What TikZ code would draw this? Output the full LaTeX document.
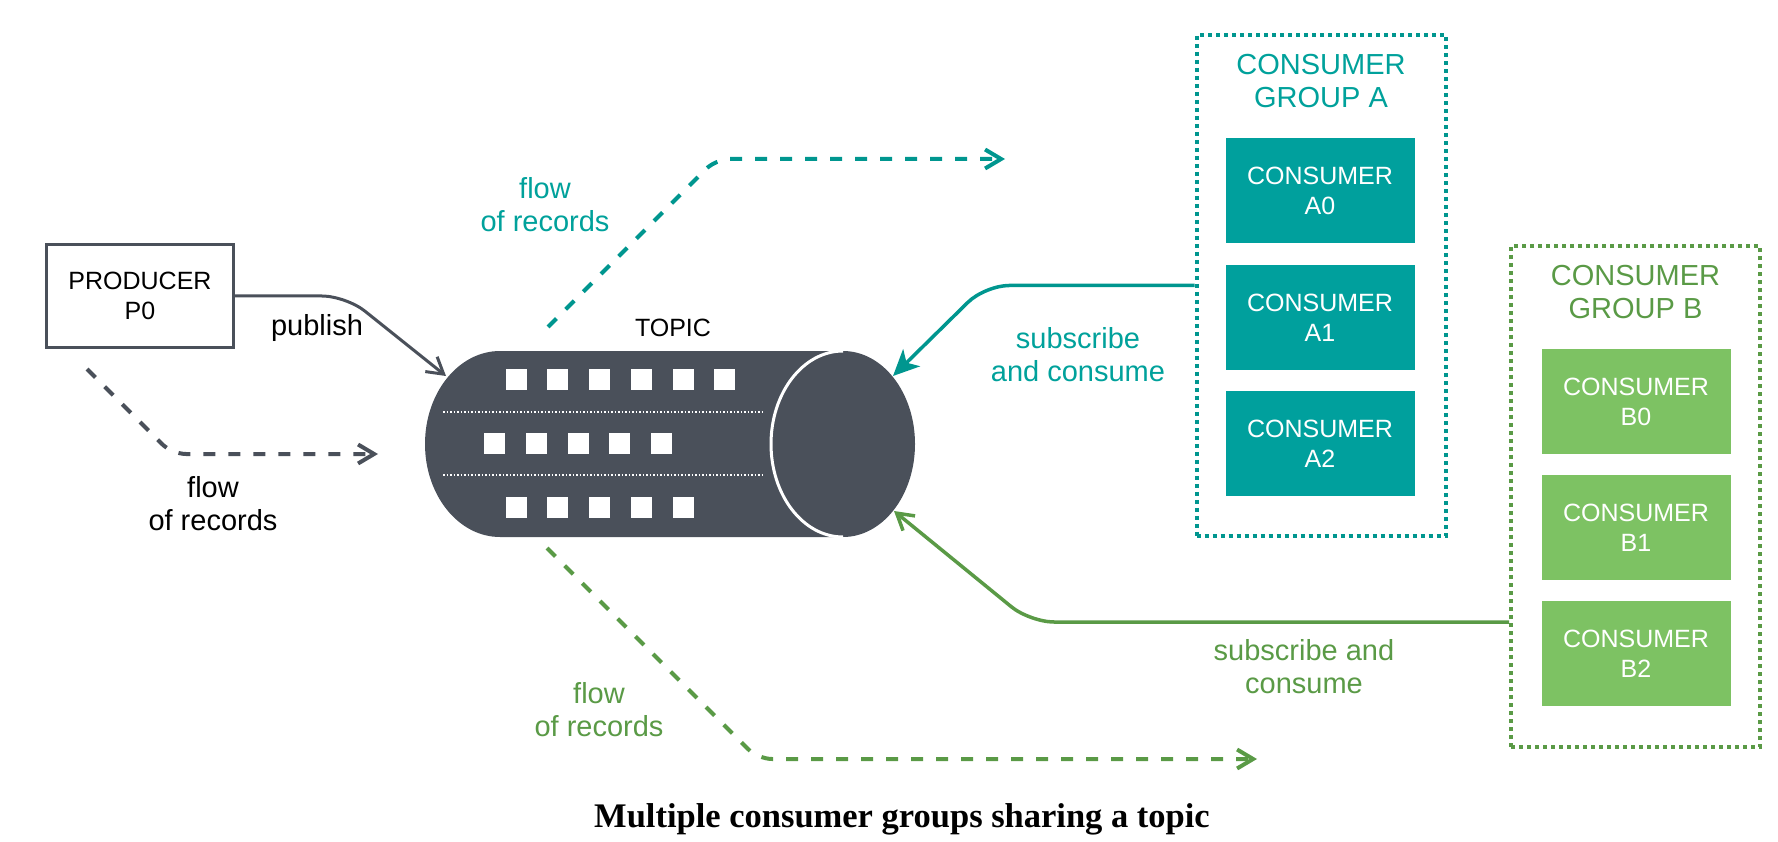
\documentclass[tikz,border=0pt]{standalone}
\usepackage{fontspec}
\setmainfont{Liberation Sans}
\newfontfamily\capfont{Liberation Serif}
\usetikzlibrary{arrows.meta}
\definecolor{kgray}{HTML}{4A505A}
\definecolor{tealln}{HTML}{00968F}
\definecolor{tealtx}{HTML}{00A19B}
\definecolor{tealfill}{HTML}{00A09D}
\definecolor{grnfill}{HTML}{7DC263}
\definecolor{grnln}{HTML}{5A9A46}
\begin{document}
\begin{tikzpicture}[x=1pt,y=-1pt,
  lbl/.style={font=\fontsize{29}{33}\selectfont, align=center, inner sep=0pt},
  boxtxt/.style={font=\fontsize{25}{30}\selectfont, align=center, inner sep=0pt},
  cbox/.style={boxtxt, text=white, minimum width=189pt, minimum height=105pt},
  grpbox/.style={draw, line width=4pt, dash pattern=on 4pt off 4pt, minimum width=249pt, minimum height=501pt, inner sep=0pt},
  openarr/.style={-{Straight Barb[length=16pt,width=19pt]}},
  dashln/.style={line width=4pt, dash pattern=on 12pt off 13pt, rounded corners=14pt},
  solidln/.style={line width=3.5pt, rounded corners=24pt}
]
\useasboundingbox (0,0) rectangle (1778,842);

% producer
\node[boxtxt, draw=kgray, line width=3pt, minimum width=187pt, minimum height=103pt] (prod) at (140,296) {PRODUCER\\P0};

% topic cylinder
\fill[kgray] (500,351) arc[start angle=270, end angle=90, x radius=75, y radius=93]
  -- (843,537) arc[start angle=90, end angle=-90, x radius=72, y radius=93] -- cycle;
\draw[white, line width=3pt] (843,351) arc[start angle=270, end angle=90, x radius=72, y radius=93];
\foreach \i in {0,...,5} \fill[white] ({505.7+41.7*\i},369) rectangle ++(21,21);
\foreach \i in {0,...,4} \fill[white] ({484.3+41.7*\i},433) rectangle ++(21,21);
\foreach \i in {0,...,4} \fill[white] ({505.7+41.7*\i},497) rectangle ++(21,21);
\draw[white, line width=1.5pt, dash pattern=on 1.5pt off 2pt] (443,412) -- (763,412);
\draw[white, line width=1.5pt, dash pattern=on 1.5pt off 2pt] (443,475) -- (763,475);
\node[boxtxt] (topic) at (673,328) {TOPIC};

\coordinate (pubtip) at (446,376);
\coordinate (subAtip) at (893,376);
\coordinate (subBtip) at (894,511);

% consumer group A
\node[grpbox, draw=tealln] (gA) at (1321,285.5) {};
\node[lbl, text=tealtx] (gAt) at (1321,81) {CONSUMER\\GROUP A};
\node[cbox, fill=tealfill] (a0) at (1320,190.5) {CONSUMER\\A0};
\node[cbox, fill=tealfill] (a1) at (1320,317.5) {CONSUMER\\A1};
\node[cbox, fill=tealfill] (a2) at (1320,443.5) {CONSUMER\\A2};

% consumer group B
\node[grpbox, draw=grnln] (gB) at (1635.5,496.5) {};
\node[lbl, text=grnln] (gBt) at (1635.5,292) {CONSUMER\\GROUP B};
\node[cbox, fill=grnfill] (b0) at (1636,401.5) {CONSUMER\\B0};
\node[cbox, fill=grnfill] (b1) at (1636,527.5) {CONSUMER\\B1};
\node[cbox, fill=grnfill] (b2) at (1636,653.5) {CONSUMER\\B2};

% publish
\draw[kgray, solidln, openarr, line width=3pt] (prod.east) -- (346,296) -- (pubtip);
\node[lbl] (pub) at (317,328) {publish};

% flow of records (gray)
\coordinate (gs) at (87,369);
\coordinate (ge) at (378,454);
\draw[kgray, dashln, openarr] (gs) -- (172,454) -- (ge);
\node[lbl] (gflow) at (213,504) {flow\\of records};

% flow of records (teal)
\coordinate (ts) at (548,327);
\coordinate (te) at (1005,159);
\draw[tealln, dashln, openarr] (ts) -- (716,159) -- (te);
\node[lbl, text=tealtx] (tflow) at (545,205) {flow\\of records};

% flow of records (green)
\coordinate (grs) at (547,548);
\coordinate (gre) at (1257,759);
\draw[grnln, dashln, openarr] (grs) -- (758,759) -- (gre);
\node[lbl, text=grnln] (grflow) at (599,710) {flow\\of records};

% subscribe A
\draw[tealln, solidln, -{Stealth[length=26pt,width=24pt,inset=7pt]}] (gA.west) -- (985,285.5) -- (subAtip);
\node[lbl, text=tealtx] (subA) at (1078,355) {subscribe\\and consume};

% subscribe B
\draw[grnln, solidln, openarr] (gB.west |- 0,622) -- (1030,622) -- (subBtip);
\node[lbl, text=grnln] (subB) at (1304,667) {subscribe and\\consume};

% caption
\node[font=\capfont\fontsize{34.5}{40}\selectfont\bfseries, inner sep=0pt] (cap) at (902,819) {Multiple consumer groups sharing a topic};
\end{tikzpicture}
\end{document}
